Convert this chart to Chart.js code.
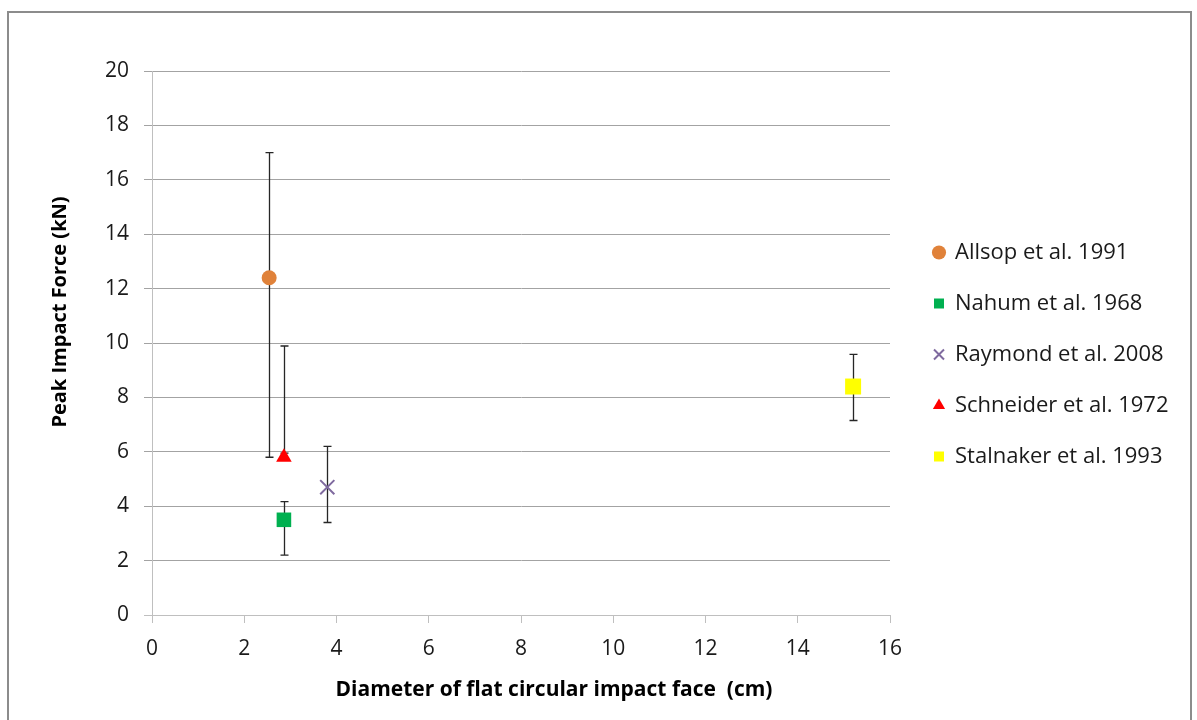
<!DOCTYPE html>
<html>
<head>
<meta charset="utf-8">
<script src="https://cdn.jsdelivr.net/npm/chart.js@4/dist/chart.umd.min.js"></script>
<style>
  html, body { margin: 0; padding: 0; background: #fff; overflow: hidden; }
  canvas { display: block; }
</style>
</head>
<body>
<canvas id="impactChart" width="1197" height="720"></canvas>
<script>
// datos
const seriesNames = ["Allsop et al. 1991", "Nahum et al. 1968", "Raymond et al. 2008", "Schneider et al. 1972", "Stalnaker et al. 1993"];
const diameters = [2.54, 2.86, 3.8, 2.86, 15.2];      // cm
const peakForce = [12.4, 3.5, 4.7, 5.8, 8.4];         // kN
const errLow = [5.8, 2.2, 3.4, 5.95, 7.15];
const errHigh = [17.0, 4.17, 6.2, 9.89, 9.58];
const xTicks = [0, 2, 4, 6, 8, 10, 12, 14, 16];
const yTicks = [0, 2, 4, 6, 8, 10, 12, 14, 16, 18, 20];

const xTitle = "Diameter of flat circular impact face  (cm)";
const yTitle = "Peak Impact Force (kN)";

// estilos de cada serie
const markerColors = ["#E0823A", "#00B050", "#7F6A9F", "#FF0000", "#FFFF00"];
const markerStyles = ["circle", "rect", "crossRot", "triangle", "rect"];
const markerSizes = [7.5, 10.3, 10, 9, 11.3];

const FONT = "'Open Sans', 'Noto Sans', sans-serif";

// barras de error (por debajo de los marcadores)
const errorBars = {
    id: "errorBars",
    beforeDatasetsDraw(chart) {
        const ctx = chart.ctx;
        const xs = chart.scales.x, ys = chart.scales.y;
        ctx.save();
        ctx.strokeStyle = "#262626";
        ctx.lineWidth = 1.3;
        for (let i = 0; i < diameters.length; i++) {
            const px = Math.round(xs.getPixelForValue(diameters[i])) + 0.5;
            const top = ys.getPixelForValue(errHigh[i]);
            const bot = ys.getPixelForValue(errLow[i]);
            ctx.beginPath();
            ctx.moveTo(px, top); ctx.lineTo(px, bot);
            ctx.moveTo(px - 4, top); ctx.lineTo(px + 4, top);
            ctx.moveTo(px - 4, bot); ctx.lineTo(px + 4, bot);
            ctx.stroke();
        }
        ctx.restore();
    }
};

// marco exterior y títulos de los ejes
const frameAndTitles = {
    id: "frameAndTitles",
    beforeDraw(chart) {
        const ctx = chart.ctx;
        ctx.save();
        ctx.fillStyle = "#fff";
        ctx.fillRect(0, 0, chart.width, chart.height);
        ctx.strokeStyle = "#8c8c8c";
        ctx.lineWidth = 2;
        ctx.strokeRect(8, 12, 1183, 730);
        ctx.restore();
    },
    afterDraw(chart) {
        const ctx = chart.ctx;
        const area = chart.chartArea;
        ctx.save();
        ctx.fillStyle = "#000";
        ctx.textAlign = "center";
        ctx.textBaseline = "middle";
        ctx.font = "bold 21px " + FONT;
        ctx.fillText(xTitle, (area.left + area.right) / 2 + 33, 690);
        ctx.font = "bold 20px " + FONT;
        ctx.translate(60, 312);
        ctx.rotate(-Math.PI / 2);
        ctx.fillText(yTitle, 0, 0);
        ctx.restore();
    }
};

// ancho fijo de la leyenda y desplazamiento
const legendPlace = {
    id: "legendPlace",
    beforeLayout(chart) {
        const legend = chart.legend;
        if (legend && !legend._patched) {
            const origFit = legend.fit.bind(legend);
            legend.fit = function () { origFit(); this.width = 307; };
            legend._patched = true;
        }
    },
    afterLayout(chart) {
        const legend = chart.legend;
        legend.left += 15; legend.right += 15;
        legend.top -= 41; legend.bottom -= 41;
    }
};

const datasets = seriesNames.map((name, i) => ({
    label: name,
    data: [{ x: diameters[i], y: peakForce[i] }],
    pointStyle: markerStyles[i],
    pointRadius: markerSizes[i],
    pointHoverRadius: markerSizes[i],
    backgroundColor: markerColors[i],
    borderColor: markerColors[i],
    borderWidth: markerStyles[i] === "crossRot" ? 2 : 0,
    showLine: false
}));

const ctx = document.getElementById("impactChart").getContext("2d");
const impactChart = new Chart(ctx, {
    type: "scatter",
    data: { datasets: datasets },
    options: {
        responsive: false,
        animation: false,
        layout: { padding: { top: 71, left: 0, right: 0, bottom: 0 } },
        plugins: {
            tooltip: { enabled: false },
            legend: {
                position: "right",
                labels: {
                    usePointStyle: true,
                    boxWidth: 10,
                    boxHeight: 10,
                    padding: 29,
                    color: "#1a1a1a",
                    font: { family: FONT, size: 22 }
                }
            }
        },
        scales: {
            x: {
                type: "linear",
                min: 0,
                max: 16,
                afterBuildTicks(scale) { scale.ticks = xTicks.map(v => ({ value: v })); },
                afterFit(scale) { scale.height = 105; },
                ticks: { color: "#1a1a1a", padding: 13, font: { family: FONT, size: 21 } },
                grid: { drawOnChartArea: false, drawTicks: true, tickLength: 8, color: "#bfbfbf" },
                border: { color: "#bfbfbf", width: 1 }
            },
            y: {
                type: "linear",
                min: 0,
                max: 20,
                afterBuildTicks(scale) { scale.ticks = yTicks.map(v => ({ value: v })); },
                afterFit(scale) { scale.width = 152; },
                ticks: { color: "#1a1a1a", padding: 15, font: { family: FONT, size: 21 } },
                grid: {
                    tickLength: 8,
                    color: c => (c.tick && c.tick.value === 0) ? "#bfbfbf" : "#a3a3a3"
                },
                border: { color: "#bfbfbf", width: 1 }
            }
        }
    },
    plugins: [errorBars, frameAndTitles, legendPlace]
});
</script>
</body>
</html>
